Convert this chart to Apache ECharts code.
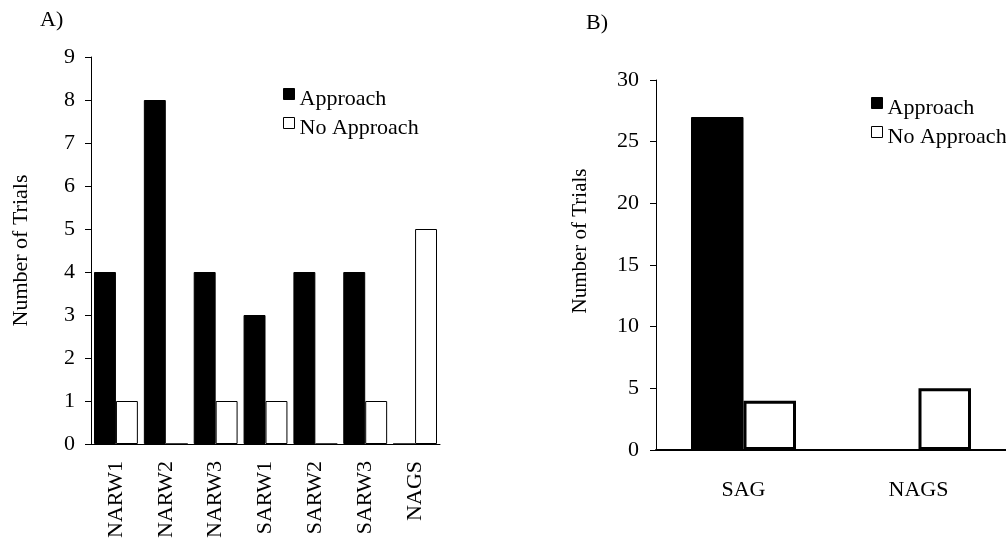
<!DOCTYPE html>
<html>
<head>
<meta charset="utf-8">
<script src="https://cdn.jsdelivr.net/npm/echarts@6/dist/echarts.min.js"></script>
<style>
  html, body { margin: 0; padding: 0; background: #fff; }
  #chart { width: 1006px; height: 541px; }
</style>
</head>
<body>
<div id="chart"></div>
<script>
// panel A
const leftCategories = ['NARW1', 'NARW2', 'NARW3', 'SARW1', 'SARW2', 'SARW3', 'NAGS']
const leftApproach = [4, 8, 4, 3, 4, 4, 0]
const leftNoApproach = [1, 0, 1, 1, 0, 1, 5]
// panel B
const rightCategories = ['SAG', 'NAGS']
const rightApproach = [27, 0]
const rightNoApproach = [4, 5]

const serif = 'Liberation Serif'
const ink = '#000'

const chart = echarts.init(document.getElementById('chart'))

const yAxisBase = {
    type: 'value',
    min: 0,
    splitLine: { show: false },
    axisLine: { show: true, lineStyle: { color: ink, width: 1 } },
    axisTick: { show: true, length: 6, lineStyle: { color: ink } },
    axisLabel: { color: ink, fontFamily: serif, fontSize: 22, margin: 16 },
    name: 'Number of Trials',
    nameLocation: 'middle',
    nameTextStyle: { color: ink, fontFamily: serif, fontSize: 22 }
}

// the marker sits a little above the text, so push the text down with an empty first line
const legendBase = {
    orient: 'vertical',
    padding: 0,
    itemGap: 1,
    itemWidth: 11,
    itemHeight: 11,
    icon: 'rect',
    itemStyle: { borderColor: ink, borderWidth: 1 },
    formatter: name => '{s| }\n{t|' + name + '}',
    textStyle: {
        color: ink,
        fontFamily: serif,
        fontSize: 22,
        rich: {
            s: { fontSize: 4, lineHeight: 10 },
            t: { color: ink, fontFamily: serif, fontSize: 22, lineHeight: 20 }
        }
    },
    data: ['Approach', 'No Approach']
}

const titleStyle = { color: ink, fontFamily: serif, fontSize: 22, fontWeight: 'normal' }

const option = {
    animation: false,
    backgroundColor: '#fff',
    title: [
        { text: 'A)', left: 40, top: 9, padding: 0, textStyle: titleStyle },
        { text: 'B)', left: 586, top: 12, padding: 0, textStyle: titleStyle }
    ],
    legend: [
        Object.assign({}, legendBase, { left: 283, top: 82 }),
        Object.assign({}, legendBase, { left: 871, top: 91 })
    ],
    grid: [
        { left: 91, right: 566, top: 57, bottom: 95 },
        { left: 656, right: -4, top: 80, bottom: 91 }
    ],
    xAxis: [
        {
            type: 'category',
            gridIndex: 0,
            data: leftCategories,
            axisLine: { lineStyle: { color: ink, width: 1 } },
            axisTick: { length: 4, lineStyle: { color: ink } },
            axisLabel: { color: ink, fontFamily: serif, fontSize: 22, rotate: 90, margin: 17, interval: 0 }
        },
        {
            type: 'category',
            gridIndex: 1,
            data: rightCategories,
            axisLine: { lineStyle: { color: ink, width: 2 } },
            axisTick: { length: 5, lineStyle: { color: ink } },
            axisLabel: { color: ink, fontFamily: serif, fontSize: 22, margin: 29 }
        }
    ],
    yAxis: [
        Object.assign({}, yAxisBase, { gridIndex: 0, max: 9, interval: 1, nameGap: 59 }),
        Object.assign({}, yAxisBase, {
            gridIndex: 1, max: 30, interval: 5, nameGap: 65,
            axisLabel: { color: ink, fontFamily: serif, fontSize: 22, margin: 17 },
            nameTextStyle: { color: ink, fontFamily: serif, fontSize: 21, padding: [0, 0, 0, 48] }
        })
    ],
    series: [
        {
            name: 'Approach', type: 'bar', xAxisIndex: 0, yAxisIndex: 0,
            data: leftApproach, barGap: '0%', barCategoryGap: '12%',
            itemStyle: { color: ink, borderColor: ink, borderWidth: 1 }
        },
        {
            name: 'No Approach', type: 'bar', xAxisIndex: 0, yAxisIndex: 0,
            data: leftNoApproach, barGap: '0%', barCategoryGap: '12%',
            itemStyle: { color: '#fff', borderColor: ink, borderWidth: 1 }
        },
        {
            name: 'Approach', type: 'bar', xAxisIndex: 1, yAxisIndex: 1,
            data: rightApproach, barGap: '0%', barCategoryGap: '40%',
            itemStyle: { color: ink, borderColor: ink, borderWidth: 1 }
        },
        {
            name: 'No Approach', type: 'bar', xAxisIndex: 1, yAxisIndex: 1,
            data: rightNoApproach, barGap: '0%', barCategoryGap: '40%',
            itemStyle: { color: '#fff', borderColor: ink, borderWidth: 3 }
        }
    ]
}

chart.setOption(option)
</script>
</body>
</html>
